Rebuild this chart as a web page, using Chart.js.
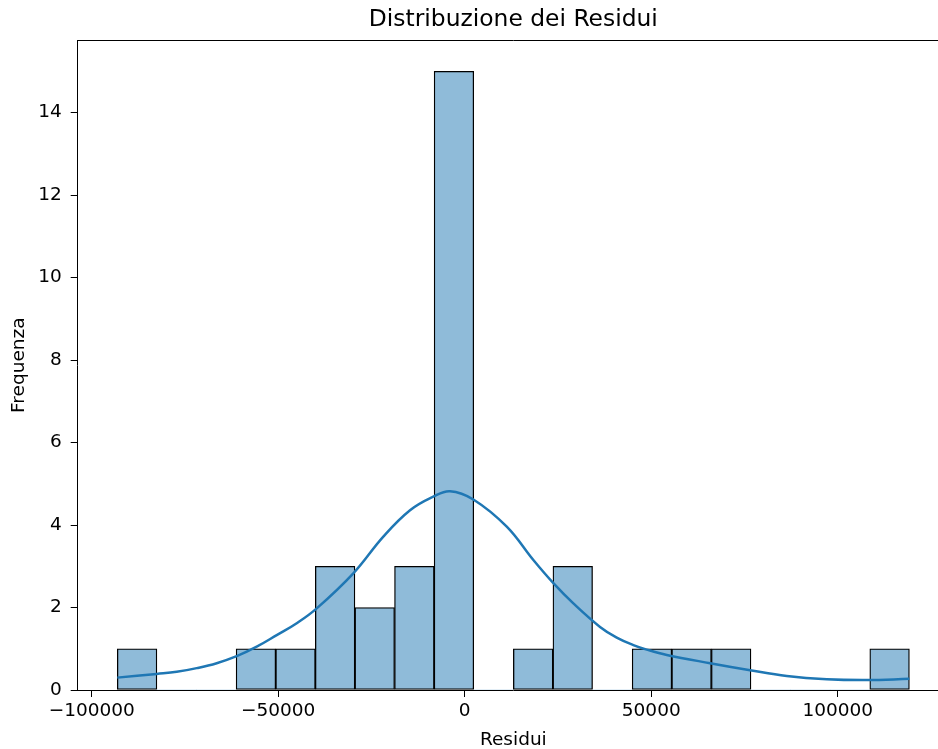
<!DOCTYPE html>
<html>
<head>
<meta charset="utf-8">
<title>Distribuzione dei Residui</title>
<script src="https://cdn.jsdelivr.net/npm/chart.js@4.4.1/dist/chart.umd.min.js"></script>
<style>
    html, body { margin: 0; padding: 0; background: #fff; overflow: hidden; }
    #wrap { width: 950px; height: 749px; }
</style>
</head>
<body>
<div id="wrap"><canvas id="residChart" width="950" height="749"></canvas></div>
<script>
// histogram bins (centers) and counts
const binCenters = [-87829, -77212, -66595, -55977, -45360, -34743, -24126, -13509, -2892, 7725,
    18343, 28960, 39577, 50194, 60811, 71428, 82045, 92663, 103280, 113897];
const counts = [1, 0, 0, 1, 1, 3, 2, 3, 15, 0, 1, 3, 0, 1, 1, 1, 0, 0, 0, 1];

// kde curve, sampled by eye
const kdeX = [-93137, -82573, -77211, -71849, -66486, -61124, -55762, -50399, -45037, -39675,
    -29862, -21819, -14661, -8413, -3936, 2311, 11266, 18398, 23760, 29122,
    36271, 40751, 45209, 48794, 54164, 65773, 76497, 86337, 97061, 107786, 119205];
const kdeY = [0.30, 0.39, 0.44, 0.53, 0.65, 0.82, 1.05, 1.33, 1.62, 1.98,
    2.83, 3.72, 4.36, 4.69, 4.82, 4.62, 3.96, 3.15, 2.59, 2.10,
    1.53, 1.27, 1.09, 0.98, 0.85, 0.65, 0.48, 0.34, 0.26, 0.24, 0.27];

const xTicks = [-100000, -50000, 0, 50000, 100000];
const yTicks = [0, 2, 4, 6, 8, 10, 12, 14];
const X_MIN = -103754, X_MAX = 129823;
const Y_MAX = 15.75;

const FONT = "'DejaVu Sans', sans-serif";

// matplotlib uses a real minus sign
function fmt(v) {
    return v < 0 ? "\u2212" + Math.abs(v) : String(v);
}

// top + right spines (left/bottom come from the axis borders)
const spines = {
    id: "spines",
    afterDatasetsDraw(chart) {
        const { ctx, chartArea: a } = chart;
        ctx.save();
        ctx.strokeStyle = "#000";
        ctx.lineWidth = 1;
        ctx.beginPath();
        ctx.moveTo(a.left, Math.round(a.top) + 0.5);
        ctx.lineTo(a.right, Math.round(a.top) + 0.5);
        ctx.lineTo(a.right, a.bottom);
        ctx.stroke();
        ctx.restore();
    }
};

const ctx = document.getElementById("residChart").getContext("2d");
new Chart(ctx, {
    data: {
        datasets: [{
            type: "line",
            order: 0,
            data: kdeX.map((x, i) => ({ x: x, y: kdeY[i] })),
            borderColor: "#1f77b4",
            borderWidth: 2.5,
            pointRadius: 0,
            fill: false,
            tension: 0.4
        }, {
            type: "bar",
            order: 1,
            data: binCenters.map((x, i) => ({ x: x, y: counts[i] })),
            backgroundColor: "#8fbbd9",
            borderColor: "#000",
            borderWidth: c => (c.raw && c.raw.y === 0) ? 0 : 1.3,
            borderSkipped: false,
            barPercentage: 1,
            categoryPercentage: 1
        }]
    },
    options: {
        responsive: false,
        animation: false,
        layout: { padding: { left: 0, right: 1, top: 0, bottom: 0 } },
        plugins: {
            legend: { display: false },
            tooltip: { enabled: false },
            title: {
                display: true,
                fullSize: false,
                text: "Distribuzione dei Residui",
                color: "#000",
                font: { family: FONT, size: 23.4, weight: "normal", lineHeight: 1.2 },
                padding: { top: 6, bottom: 6.3 }
            }
        },
        scales: {
            x: {
                type: "linear",
                min: X_MIN,
                max: X_MAX,
                offset: false,
                afterBuildTicks: s => { s.ticks = xTicks.map(v => ({ value: v })); },
                afterFit: s => { s.height = 59; },
                grid: { offset: false, drawOnChartArea: false, drawTicks: true, tickLength: 7, color: "#000" },
                border: { display: true, color: "#000", width: 1 },
                ticks: {
                    color: "#000",
                    padding: 3,
                    maxRotation: 0,
                    font: { family: FONT, size: 18.5 },
                    callback: v => fmt(v)
                },
                title: {
                    display: true,
                    text: "Residui",
                    color: "#000",
                    font: { family: FONT, size: 18.5, lineHeight: 1 },
                    padding: { top: 0, bottom: 0 }
                }
            },
            y: {
                min: 0,
                max: Y_MAX,
                afterBuildTicks: s => { s.ticks = yTicks.map(v => ({ value: v })); },
                afterFit: s => { s.width = 77.7; },
                grid: { drawOnChartArea: false, drawTicks: true, tickLength: 7, color: "#000" },
                border: { display: true, color: "#000", width: 1 },
                ticks: {
                    color: "#000",
                    padding: 9,
                    font: { family: FONT, size: 18.5 },
                    callback: v => fmt(v)
                },
                title: {
                    display: true,
                    text: "Frequenza",
                    color: "#000",
                    font: { family: FONT, size: 18.5, lineHeight: 1.2 },
                    padding: { top: 8, bottom: 0 }
                }
            }
        }
    },
    plugins: [spines]
});
</script>
</body>
</html>
